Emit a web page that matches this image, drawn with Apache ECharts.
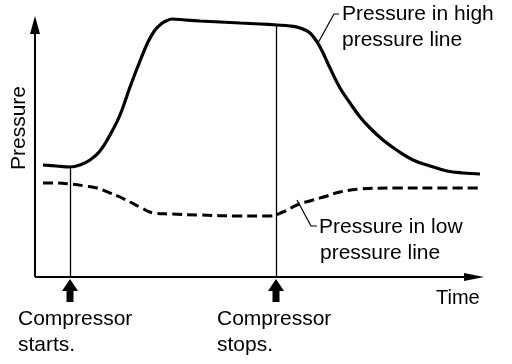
<!DOCTYPE html>
<html>
<head>
<meta charset="utf-8">
<script src="https://cdn.jsdelivr.net/npm/echarts@6/dist/echarts.min.js"></script>
<style>html,body{margin:0;padding:0;background:#fff}#c{width:512px;height:364px}</style>
</head>
<body>
<div id="c"></div>
<script>
// Time (arbitrary units) and pressure (arbitrary units)
var highTime = [8, 21, 35, 45, 55, 65, 75, 85, 95, 105, 113, 120, 126, 131, 137, 150, 165, 185, 205, 225, 242, 255, 265, 275, 285, 295, 305, 315, 325, 335, 348, 363, 378, 395, 412, 428, 445];
var highPressure = [112, 111, 110, 112, 117, 126, 142, 162, 190, 216, 235, 247, 253, 256, 258, 257, 256, 255, 254, 253, 252, 251, 249, 244, 230, 209, 189, 174, 160, 149, 137, 126, 117, 111, 106, 104, 103];
var lowTime = [8, 22, 35, 50, 62, 75, 85, 95, 105, 118, 135, 165, 205, 235, 248, 262, 278, 292, 305, 325, 365, 405, 445];
var lowPressure = [94, 94, 93, 91, 89, 84, 80, 75, 70, 64, 63, 62, 61, 61, 65, 72, 77, 81, 85, 88, 89, 89, 89];
var compressorStart = 35, compressorStop = 241;
var axisEnd = { time: 439, pressure: 252 };
var leaderHigh = [[283, 234], [299, 263], [304, 263]];
var leaderLow = [[262, 77], [276, 51], [282, 51]];

function zip(a, b) { return a.map(function (v, i) { return [v, b[i]]; }); }
function interp(t, ts, ps) {
  for (var i = 1; i < ts.length; i++) {
    if (t <= ts[i]) { var f = (t - ts[i - 1]) / (ts[i] - ts[i - 1]); return ps[i - 1] + f * (ps[i] - ps[i - 1]); }
  }
  return ps[ps.length - 1];
}

var font = '"Liberation Sans", Arial, sans-serif';
var chart = echarts.init(document.getElementById('c'), null, { renderer: 'canvas' });
var arrowPath = 'path://M8,0 L16,12 L11.5,12 L11.5,23 L4.5,23 L4.5,12 L0,12 Z';

function txt(text, x, y, size, rot, align) {
  return { type: 'text', x: x, y: y, rotation: rot || 0, silent: true,
    style: { text: text, fill: '#000', font: (size || 21) + 'px ' + font, textAlign: align || 'left', textVerticalAlign: 'middle' } };
}

chart.setOption({
  animation: false,
  backgroundColor: '#fff',
  grid: { left: 35, right: 32, top: 17, bottom: 87 },
  xAxis: { type: 'value', min: 0, max: 445, show: false },
  yAxis: { type: 'value', min: 0, max: 260, show: false },
  series: [
    {
      name: 'high', type: 'line', data: zip(highTime, highPressure), smooth: 0.4, clip: false,
      showSymbol: false, symbol: 'none', lineStyle: { color: '#000', width: 3.2 }, silent: true,
      markLine: {
        silent: true, symbol: 'none', label: { show: false },
        lineStyle: { color: '#000', width: 1.3, type: 'solid' },
        data: [
          [{ coord: [compressorStart, 0] }, { coord: [compressorStart, interp(compressorStart, highTime, highPressure)] }],
          [{ coord: [compressorStop, 0] }, { coord: [compressorStop, interp(compressorStop, highTime, highPressure)] }]
        ]
      }
    },
    {
      name: 'low', type: 'line', data: zip(lowTime, lowPressure), smooth: 0.4, clip: false,
      showSymbol: false, symbol: 'none', lineStyle: { color: '#000', width: 3, type: [10, 5] }, silent: true
    },
    {
      name: 'axes', type: 'line', data: [], silent: true,
      markLine: {
        silent: true, label: { show: false },
        lineStyle: { color: '#000', width: 2, type: 'solid' },
        data: [
          [{ coord: [0, 0], symbol: 'none' }, { coord: [axisEnd.time, 0], symbol: 'triangle', symbolSize: [8, 20] }],
          [{ coord: [0, 0], symbol: 'none' }, { coord: [0, axisEnd.pressure], symbol: 'triangle', symbolSize: [10, 18] }]
        ]
      },
      markPoint: {
        silent: true, symbol: arrowPath, symbolSize: [16, 23], symbolKeepAspect: false,
        symbolOffset: [0, 13.5], label: { show: false },
        itemStyle: { color: '#000' },
        data: [{ coord: [compressorStart, 0] }, { coord: [compressorStop, 0] }]
      }
    },
    {
      name: 'leaderHigh', type: 'line', data: leaderHigh, clip: false, silent: true,
      symbol: 'none', lineStyle: { color: '#000', width: 1.2 }
    },
    {
      name: 'leaderLow', type: 'line', data: leaderLow, clip: false, silent: true,
      symbol: 'none', lineStyle: { color: '#000', width: 1.2 }
    }
  ],
  graphic: [
    txt('Pressure', 19, 128, 21, Math.PI / 2, 'center'),
    txt('Pressure in high', 342, 14),
    txt('pressure line', 342, 40),
    txt('Pressure in low', 319, 227),
    txt('pressure line', 320, 253),
    txt('Time', 436, 298, 20),
    txt('Compressor', 18, 319),
    txt('starts.', 18, 345),
    txt('Compressor', 217, 319),
    txt('stops.', 217, 345)
  ]
});
</script>
</body>
</html>
